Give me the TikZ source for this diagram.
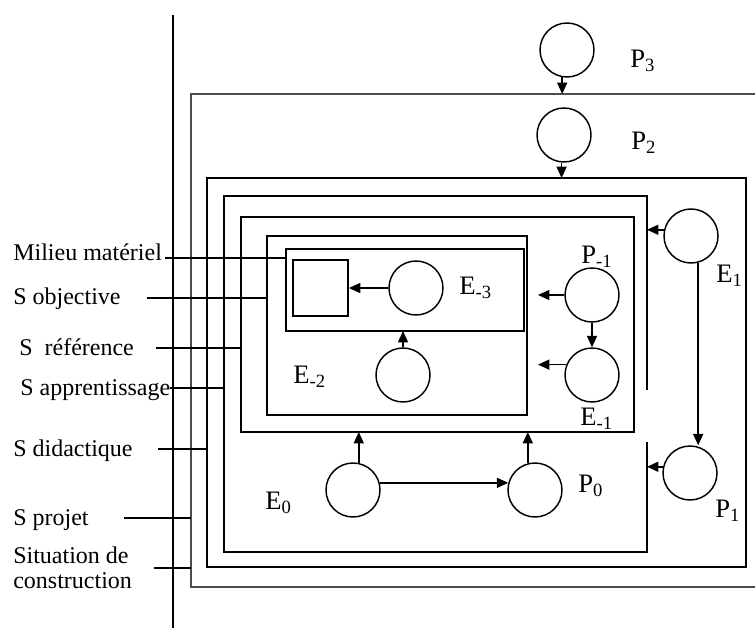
\documentclass[tikz,border=0pt]{standalone}
\usepackage{fontspec}
\setmainfont{Liberation Serif}
\usetikzlibrary{arrows.meta,calc}

\tikzset{
  etat/.style={circle,draw,line width=1.1pt,minimum size=40.5pt,inner sep=0pt},
  lab/.style={anchor=base west,inner sep=0pt,font=\fontsize{18}{20}\selectfont},
  elab/.style={anchor=base west,inner sep=0pt,font=\fontsize{20}{22}\selectfont},
  fl/.style={-{Triangle[length=8.5pt,width=7.5pt]},line width=1.1pt},
  fin/.style={line width=1.1pt},
  epais/.style={line width=2.1pt}
}

\begin{document}
\begin{tikzpicture}[x=0.75pt,y=-0.75pt,line join=miter]
  \useasboundingbox (0,0) rectangle (755,628);
  % corners of the nested situations
  \coordinate (outerNW) at (191,94);
  \coordinate (didNW) at (207,178);
  \coordinate (appNW) at (224,196);
  \coordinate (appSE) at (647,552);
  \coordinate (refNW) at (241,217);
  \coordinate (refSE) at (634,432);
  \coordinate (objNW) at (267,236);
  \coordinate (objSE) at (527,415);
  \coordinate (milNW) at (286,249);
  \coordinate (milSE) at (524,331);
  % the axis on the left
  \coordinate (axeN) at (173,15);
  \coordinate (axeS) at (173,628);
  \draw[fin] (axeN) -- (axeS);
  % nested frames
  \draw[fin,gray!60!black] (760,94) -- (outerNW) -- (191,587) -- (760,587);
  \draw[epais] (didNW) rectangle (746,567);
  \draw[fin] (647,390) -- (647,196) -- (appNW) -- (224,552) -- (appSE) -- (647,442);
  \draw[epais] (refNW) rectangle (refSE);
  \draw[epais] (objNW) rectangle (objSE);
  \draw[epais] (milNW) rectangle (milSE);
  \node[draw,line width=1.4pt,minimum width=41.25pt,minimum height=42pt,inner sep=0pt] (mat) at (320.5,288) {};
  % states
  \node[etat] (P3) at (567,50) {};
  \node[etat] (P2) at (564,135) {};
  \node[etat] (E1) at (691,236) {};
  \node[etat] (P1) at (690,473) {};
  \node[etat] (Pm1) at (592,295) {};
  \node[etat] (Em1) at (592,375) {};
  \node[etat] (Em3) at (416,288) {};
  \node[etat] (Em2) at (403,375) {};
  \node[etat] (E0) at (353,490) {};
  \node[etat] (P0) at (535,490) {};
  % arrows
  \coordinate (tipP) at (538,297);
  \draw[fl] (P3.260) -- (P3.260 |- outerNW);
  \draw[fl] (P2.265) -- (P2.265 |- didNW);
  \draw[fl] (E1.167) -- (E1.167 -| appSE);
  \draw[fl] (E1.-75) -- (E1.-75 |- P1.north);
  \draw[fl] (P1.167) -- (P1.167 -| appSE);
  \draw[fl] (Pm1.west) -- (tipP |- Pm1.west);
  \draw[fl] (Em1.158) -- (tipP |- Em1.158);
  \draw[fl] (Pm1.south) -- (Em1.north);
  \draw[fl] (Em3.west) -- (mat.east);
  \draw[fl] (Em2.north) -- (Em2.north |- milSE);
  \draw[fl] (E0.78) -- (E0.78 |- refSE);
  \draw[fl] (P0.105) -- (P0.105 |- refSE);
  \draw[fl] (E0.15) -- (P0.165);
  % state labels
  \node[elab] (lP3) at (630,67) {P\textsubscript{3}};
  \node[elab] (lP2) at (631,149) {P\textsubscript{2}};
  \node[elab] (lE1) at (716,282) {E\textsubscript{1}};
  \node[elab] (lP1) at (715,517) {P\textsubscript{1}};
  \node[elab] (lP0) at (578,492) {P\textsubscript{0}};
  \node[elab] (lE0) at (265,509) {E\textsubscript{0}};
  \node[elab] (lPm1) at (581,263) {P\textsubscript{-1}};
  \node[elab] (lEm1) at (580,425) {E\textsubscript{-1}};
  \node[elab] (lEm3) at (459,294) {E\textsubscript{-3}};
  \node[elab] (lEm2) at (293,383) {E\textsubscript{-2}};
  % situation labels
  \node[lab] (lmil) at (13,260) {Milieu matériel};
  \node[lab] (lobj) at (13,304) {S objective};
  \node[lab] (lref) at (19,355) {S\ \ référence};
  \node[lab] (lapp) at (20,395) {S apprentissage};
  \node[lab] (ldid) at (13,456) {S didactique};
  \node[lab] (lproj) at (13,525) {S projet};
  \node[lab] (lsit) at (13,563) {Situation de};
  \node[lab] (lcon) at (13,588) {construction};
  \coordinate (cmil) at (165,258);
  \coordinate (cobj) at (147,298);
  \coordinate (cref) at (156,348);
  \coordinate (capp) at (170,388);
  \coordinate (cdid) at (158,449);
  \coordinate (cproj) at (124,518);
  \coordinate (csit) at (154,568);
  \draw[fin] (cmil) -- (cmil -| milNW);
  \draw[epais] (cobj) -- (cobj -| objNW);
  \draw[epais] (cref) -- (cref -| refNW);
  \draw[line width=1.4pt] (capp) -- (capp -| appNW);
  \draw[epais] (cdid) -- (cdid -| didNW);
  \draw[fin] (cproj) -- (cproj -| outerNW);
  \draw[epais] (csit) -- (csit -| outerNW);
\end{tikzpicture}
\end{document}
